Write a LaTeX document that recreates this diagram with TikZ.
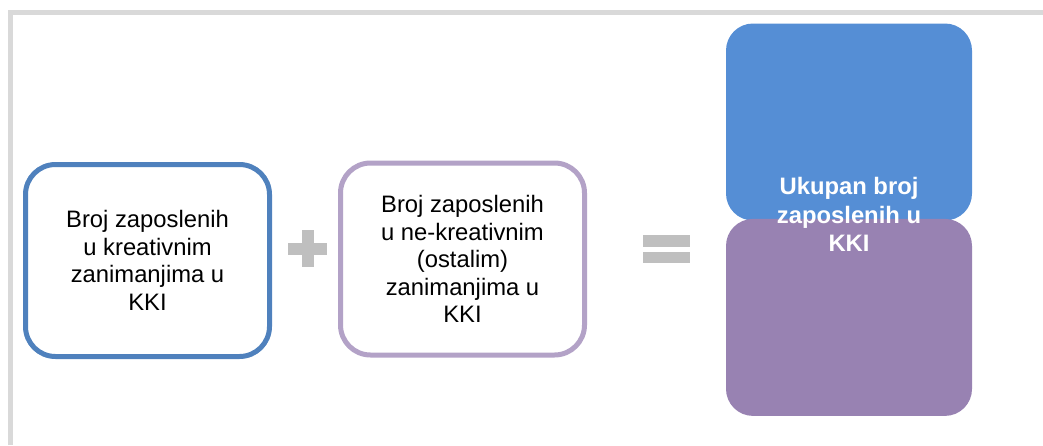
\documentclass[tikz,border=0pt]{standalone}
\usepackage{fontspec}
\setmainfont{Liberation Sans}
\usetikzlibrary{positioning}
\definecolor{okvir}{RGB}{217,217,217}
\definecolor{plava}{RGB}{79,129,189}
\definecolor{ljubicasta}{RGB}{179,162,199}
\definecolor{siva}{RGB}{191,191,191}
\definecolor{plavaisp}{RGB}{85,142,213}
\definecolor{ljubisp}{RGB}{152,130,178}

\begin{document}
\begin{tikzpicture}[x=1pt,y=-1pt,node distance=66pt,
    kutija/.style={rectangle, rounded corners=30pt, draw, line width=5pt, fill=white, minimum width=244pt, minimum height=192pt, align=center, font=\fontsize{23.8}{27.5}\selectfont},
    ukupno/.style={rectangle, rounded corners=27pt, minimum width=246pt, minimum height=197pt},
    znak/.style={fill=siva}]

    \useasboundingbox (0,0) rectangle (1043,445);

    % okvir
    \draw[okvir, line width=5pt] (10,445) -- (10,12.5) -- (1043,12.5);

    \node[kutija, draw=plava] (kreat) at (147.5,260.5) {Broj zaposlenih\\u kreativnim\\zanimanjima u\\KKI};
    \node[kutija, draw=ljubicasta] (ostali) [right=of kreat, yshift=1.5pt] {Broj zaposlenih\\u ne-kreativnim\\(ostalim)\\zanimanjima u\\KKI};

    % plus i jednako
    \fill[znak] (288,242.5) rectangle (327,254.5);
    \fill[znak] (301.5,230) rectangle (313.5,267);
    \fill[znak] (643,235) rectangle (690,247);
    \fill[znak] (643,252) rectangle (690,263);

    \node[ukupno, fill=plavaisp] (ukupno1) at (849,122) {};
    \node[ukupno, fill=ljubisp] (ukupno2) [below=-2pt of ukupno1] {};
    \node[align=center, text=white, font=\bfseries\fontsize{23.8}{28.5}\selectfont] (tekst) [yshift=6pt] at (ukupno1.south) {Ukupan broj\\zaposlenih u\\KKI};
\end{tikzpicture}
\end{document}
